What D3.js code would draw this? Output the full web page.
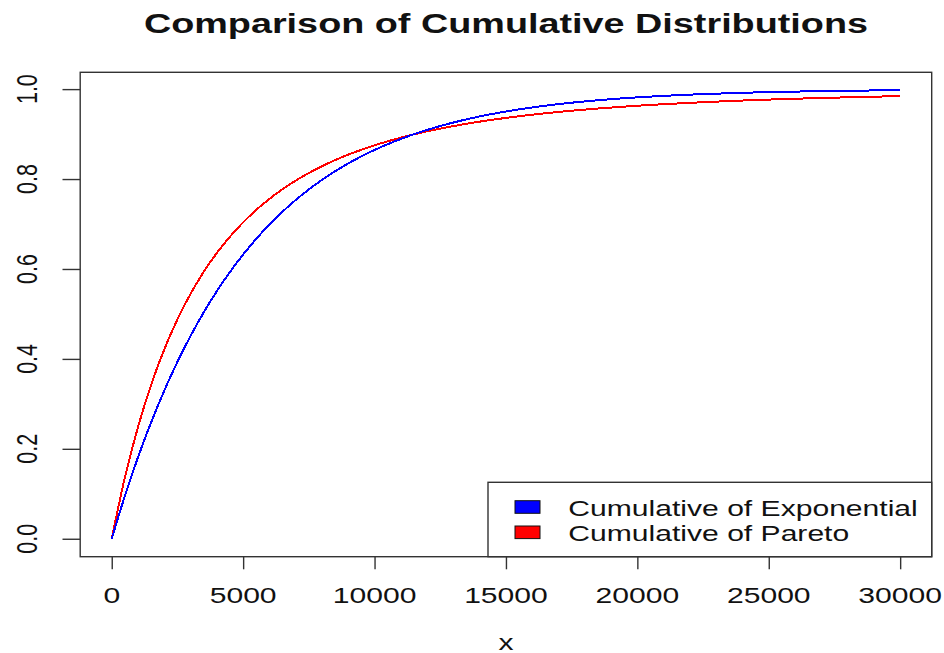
<!DOCTYPE html>
<html>
<head>
<meta charset="utf-8">
<script src="https://cdn.jsdelivr.net/npm/d3@7"></script>
<style>
  html, body { margin: 0; padding: 0; background: #fff; }
  svg { display: block; }
  text { font-family: "Liberation Sans", Arial, sans-serif; fill: #111; }
</style>
</head>
<body>
<svg id="chart" width="944" height="653"></svg>
<script>
// x grid of the evaluated distributions (step 500)
const xValues = d3.range(0, 30001, 500);

// Cumulative of Exponential at each x
const expValues = [
  0.0000, 0.0952, 0.1813, 0.2592, 0.3297, 0.3935, 0.4512, 0.5034, 0.5507, 0.5934,
  0.6321, 0.6671, 0.6988, 0.7275, 0.7534, 0.7769, 0.7981, 0.8173, 0.8347, 0.8504,
  0.8647, 0.8775, 0.8892, 0.8997, 0.9093, 0.9179, 0.9257, 0.9328, 0.9392, 0.9450,
  0.9502, 0.9550, 0.9592, 0.9631, 0.9666, 0.9698, 0.9727, 0.9753, 0.9776, 0.9798,
  0.9817, 0.9834, 0.9850, 0.9864, 0.9877, 0.9889, 0.9899, 0.9909, 0.9918, 0.9926,
  0.9933, 0.9939, 0.9945, 0.9950, 0.9955, 0.9959, 0.9963, 0.9967, 0.9970, 0.9973,
  0.9975
];

// Cumulative of Pareto at each x
const paretoValues = [
  0.0000, 0.1362, 0.2487, 0.3425, 0.4213, 0.4880, 0.5448, 0.5936, 0.6356, 0.6720,
  0.7037, 0.7315, 0.7559, 0.7774, 0.7965, 0.8134, 0.8285, 0.8421, 0.8542, 0.8651,
  0.8750, 0.8839, 0.8920, 0.8994, 0.9061, 0.9122, 0.9178, 0.9229, 0.9277, 0.9320,
  0.9360, 0.9397, 0.9431, 0.9463, 0.9492, 0.9519, 0.9544, 0.9568, 0.9590, 0.9610,
  0.9630, 0.9648, 0.9664, 0.9680, 0.9695, 0.9709, 0.9722, 0.9734, 0.9746, 0.9756,
  0.9767, 0.9776, 0.9786, 0.9794, 0.9803, 0.9810, 0.9818, 0.9825, 0.9831, 0.9838,
  0.9844
];

const xTicks = [0, 5000, 10000, 15000, 20000, 25000, 30000];
const yTicks = [0.0, 0.2, 0.4, 0.6, 0.8, 1.0];

const seriesNames = ["Cumulative of Exponential", "Cumulative of Pareto"];
const seriesColors = ["#0000ff", "#ff0000"];

const titleText = "Comparison of Cumulative Distributions";
const xLabel = "x";

// ---- layout ----
const plot = { left: 80.2, right: 931.7, top: 72.3, bottom: 556.7 };
const SX = 1.40;        // horizontal stretch of all lettering
const FONT = 21.5;

const svg = d3.select("#chart");

// padded domains (4% each side)
const xExt = d3.extent(xValues);
const yExt = [0, d3.max(expValues.concat(paretoValues))];
const xPad = (xExt[1] - xExt[0]) * 0.04;
const yPad = (yExt[1] - yExt[0]) * 0.04;

const x = d3.scaleLinear().domain([xExt[0] - xPad, xExt[1] + xPad]).range([plot.left, plot.right]);
const y = d3.scaleLinear().domain([yExt[0] - yPad, yExt[1] + yPad]).range([plot.bottom, plot.top]);

function label(g, px, py, str, opts = {}) {
  const t = g.append("text")
    .attr("transform", `translate(${px},${py}) scale(${SX},1)` + (opts.rotate ? ` rotate(${opts.rotate})` : ""))
    .attr("text-anchor", opts.anchor || "middle")
    .style("font-size", (opts.size || FONT) + "px")
    .text(str);
  if (opts.bold) t.style("font-weight", "bold");
  return t;
}

// ---- curves ----
const line = d3.line()
  .x(d => x(d[0]))
  .y(d => y(d[1]))
  .curve(d3.curveMonotoneX);

const curves = svg.append("g");
[[paretoValues, seriesColors[1]], [expValues, seriesColors[0]]].forEach(([vals, col]) => {
  curves.append("path")
    .datum(xValues.map((v, i) => [v, vals[i]]))
    .attr("d", line)
    .attr("fill", "none")
    .attr("stroke", col)
    .attr("stroke-width", 2)
    .attr("shape-rendering", "crispEdges");
});

// ---- axes ----
const xAxis = svg.append("g")
  .attr("transform", `translate(0,${plot.bottom})`)
  .call(d3.axisBottom(x).tickValues(xTicks).tickSize(12.6).tickSizeOuter(0).tickFormat(""));
xAxis.select(".domain").remove();
xAxis.selectAll("line").attr("stroke", "#333").attr("stroke-width", 1.4);

const yAxis = svg.append("g")
  .attr("transform", `translate(${plot.left},0)`)
  .call(d3.axisLeft(y).tickValues(yTicks).tickSize(17.7).tickSizeOuter(0).tickFormat(""));
yAxis.select(".domain").remove();
yAxis.selectAll("line").attr("stroke", "#333").attr("stroke-width", 1.4);

const labels = svg.append("g");
xTicks.forEach(v => label(labels, x(v), 602.5, String(v)));
yTicks.forEach(v => label(labels, 37, y(v), d3.format(".1f")(v), { rotate: -90 }));

// plot frame
svg.append("rect")
  .attr("x", plot.left).attr("y", plot.top)
  .attr("width", plot.right - plot.left).attr("height", plot.bottom - plot.top)
  .attr("fill", "none").attr("stroke", "#333").attr("stroke-width", 1.4);

// ---- title and axis label ----
label(svg, (plot.left + plot.right) / 2, 32.5, titleText, { size: 27, bold: true });
label(svg, (plot.left + plot.right) / 2, 649.5, xLabel);

// ---- legend ----
const legend = svg.append("g");
legend.append("rect")
  .attr("x", 488).attr("y", 482.3)
  .attr("width", plot.right - 488).attr("height", plot.bottom - 482.3)
  .attr("fill", "#fff").attr("stroke", "#333").attr("stroke-width", 1.4);

seriesNames.forEach((name, i) => {
  const cy = 507 + i * 25.3;
  legend.append("rect")
    .attr("x", 515).attr("y", cy - 6.3)
    .attr("width", 25).attr("height", 12.6)
    .attr("fill", seriesColors[i]).attr("stroke", "#111").attr("stroke-width", 1);
  label(legend, 568.3, cy + 8.5, name, { anchor: "start" });
});
</script>
</body>
</html>
